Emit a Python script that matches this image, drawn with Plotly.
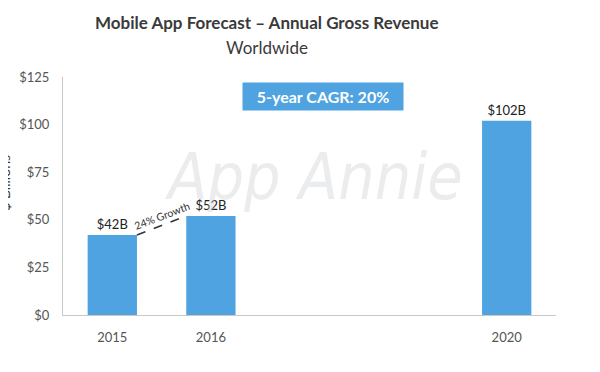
import plotly.graph_objects as go

# Data
categories = ["2015", "2016", "gap1", "gap2", "2020"]
tick_labels = ["2015", "2016", "", "", "2020"]
years = ["2015", "2016", "2020"]
revenue = [42, 52, 102]
bar_labels = ["$42B", "$52B", "$102B"]
y_ticks = [0, 25, 50, 75, 100, 125]
y_tick_labels = ["$0", "$25", "$50", "$75", "$100", "$125"]
growth_label = "24% Growth"
cagr_label = "5-year CAGR: 20%"

BAR_COLOR = "#4fa3e0"
BAR_WIDTH = 0.5
FONT = "Lato"

fig = go.Figure()
fig.add_trace(go.Bar(
    x=years, y=revenue, width=BAR_WIDTH,
    marker=dict(color=BAR_COLOR, line=dict(width=0)),
    text=bar_labels, textposition="outside", cliponaxis=False,
    textfont=dict(family=FONT, size=13, color="#222222"),
    hoverinfo="skip",
))

# dashed growth line between the tops of 2015 and 2016 bars
i0 = categories.index(years[0])
i1 = categories.index(years[1])
fig.add_shape(type="line", xref="x", yref="y",
              x0=i0 + BAR_WIDTH / 2, y0=revenue[0],
              x1=i1 - BAR_WIDTH / 2, y1=revenue[1],
              line=dict(color="#333333", width=1.5, dash="dash"))

annotations = [
    dict(text="<b>Mobile App Forecast – Annual Gross Revenue</b>", xref="paper", yref="paper",
         x=0.414, y=1.23, xanchor="center", yanchor="middle", showarrow=False,
         font=dict(family=FONT, size=17, color="#3a3a3a")),
    dict(text="Worldwide", xref="paper", yref="paper",
         x=0.414, y=1.122, xanchor="center", yanchor="middle", showarrow=False,
         font=dict(family=FONT, size=17, color="#3a3a3a")),
    dict(text="App Annie", xref="paper", yref="paper",
         x=0.508, y=0.58, xanchor="center", yanchor="middle", showarrow=False,
         font=dict(family="DejaVu Sans Condensed, Liberation Sans Narrow, sans-serif",
                   size=64, color="rgba(205,209,215,0.42)", style="italic")),
    dict(text=f"<b>{cagr_label}</b>", xref="paper", yref="paper",
         x=0.527, y=0.916, xanchor="center", yanchor="middle", showarrow=False,
         bgcolor=BAR_COLOR, borderpad=4, width=152,
         font=dict(family=FONT, size=16, color="white")),
    dict(text=growth_label, xref="x", yref="y",
         x=(i0 + i1) / 2, y=(revenue[0] + revenue[1]) / 2 + 5,
         xanchor="center", yanchor="middle", showarrow=False, textangle=-21,
         font=dict(family=FONT, size=10.5, color="#333333")),
    dict(text="$ Billions", xref="paper", yref="paper",
         x=-0.118, y=0.555, xanchor="center", yanchor="middle", showarrow=False,
         textangle=-90, font=dict(family=FONT, size=14, color="#333333")),
]

# the page body adds an 8px offset; size and margins compensate for it
fig.update_layout(
    width=592, height=364,
    margin=dict(l=55, r=44, t=69, b=57),
    paper_bgcolor="white", plot_bgcolor="white",
    showlegend=False,
    annotations=annotations,
    xaxis=dict(type="category", categoryorder="array", categoryarray=categories,
               range=[-0.5, len(categories) - 0.5],
               tickmode="array", tickvals=categories, ticktext=tick_labels,
               showline=True, linecolor="#c8c8c8", linewidth=1.2,
               showgrid=False, ticks="", ticklabelstandoff=10,
               tickfont=dict(family=FONT, size=13, color="#555555")),
    yaxis=dict(range=[0, 125], tickmode="array", tickvals=y_ticks, ticktext=y_tick_labels,
               showline=True, linecolor="#c8c8c8", linewidth=1.2,
               showgrid=False, zeroline=False, ticks="", ticklabelstandoff=10,
               tickfont=dict(family=FONT, size=13, color="#555555")),
)

fig.write_html("out.html")
